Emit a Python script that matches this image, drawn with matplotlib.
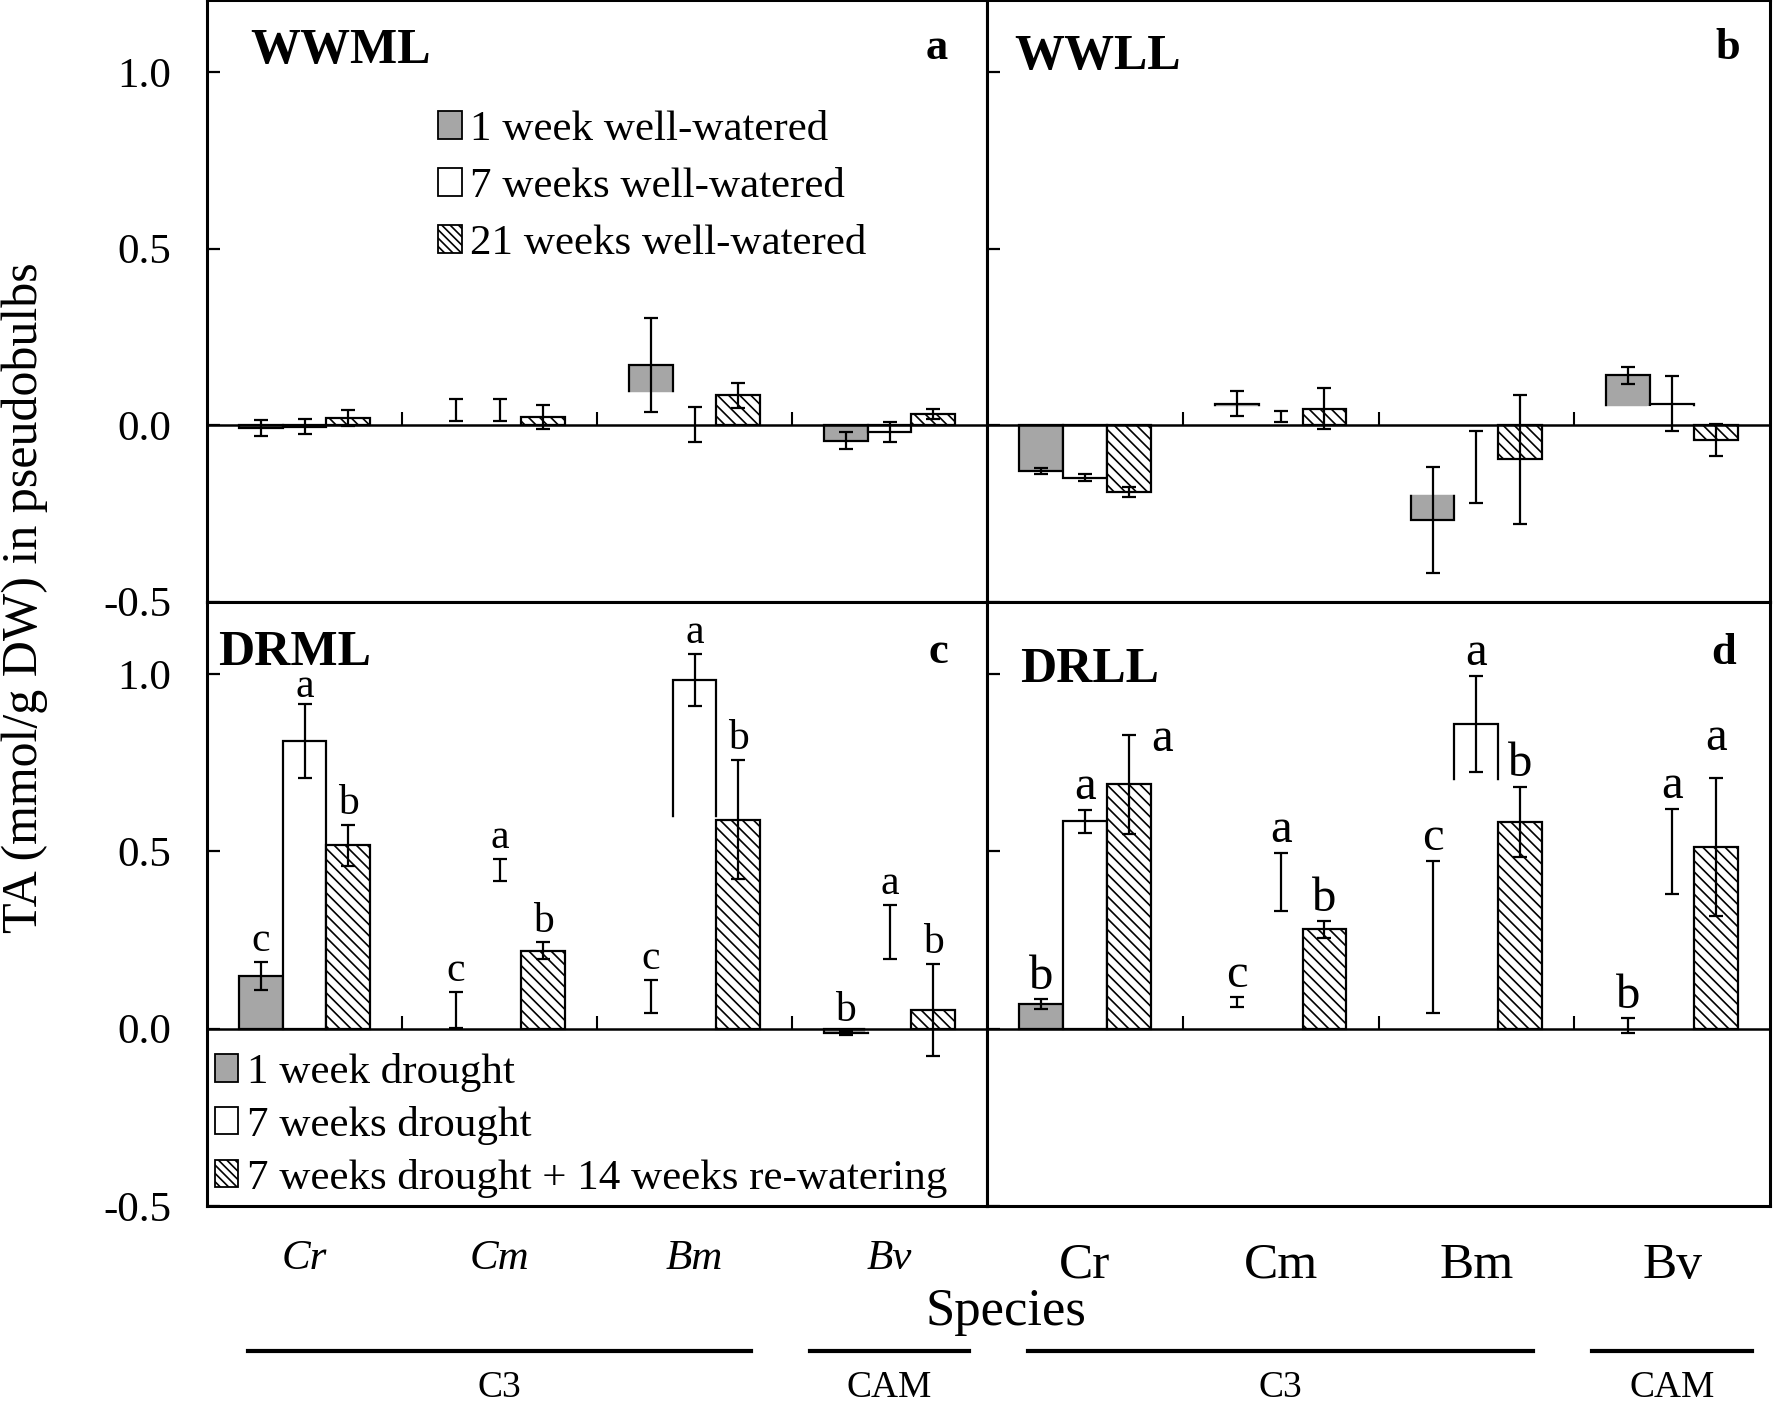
import numpy as np
import matplotlib
matplotlib.use('Agg')
import matplotlib.pyplot as plt
import matplotlib.transforms as mtransforms
from matplotlib.patches import Patch

plt.rcParams['font.family'] = ['Liberation Serif', 'DejaVu Serif']
plt.rcParams['hatch.linewidth'] = 1.2
nan = np.nan

# ---------------- data ----------------
species = ['Cr', 'Cm', 'Bm', 'Bv']
group_names = ['C3', 'CAM']
group_members = [[0, 1, 2], [3]]

ww_labels = ['1 week well-watered', '7 weeks well-watered', '21 weeks well-watered']
dr_labels = ['1 week drought', '7 weeks drought', '7 weeks drought + 14 weeks re-watering']

# panel a: WWML
wwml_1w = [-0.008, 0.043, 0.171, -0.044]
wwml_1w_err = [0.023, 0.032, 0.134, 0.025]
wwml_7w = [-0.005, 0.044, 0.002, -0.019]
wwml_7w_err = [0.021, 0.031, 0.050, 0.029]
wwml_21w = [0.020, 0.023, 0.084, 0.031]
wwml_21w_err = [0.022, 0.034, 0.036, 0.014]
wwml_1w_hidden_to = [nan, 0.043, 0.084, nan]
wwml_7w_hidden_to = [nan, 0.044, 0.002, nan]

# panel b: WWLL
wwll_1w = [-0.130, 0.061, -0.270, 0.141]
wwll_1w_err = [0.008, 0.035, 0.150, 0.025]
wwll_7w = [-0.149, 0.024, -0.119, 0.061]
wwll_7w_err = [0.010, 0.015, 0.103, 0.077]
wwll_21w = [-0.190, 0.046, -0.097, -0.043]
wwll_21w_err = [0.014, 0.058, 0.182, 0.045]
wwll_1w_hidden_to = [nan, 0.047, -0.191, 0.047]
wwll_7w_hidden_to = [nan, 0.024, -0.119, 0.047]

# panel c: DRML
drml_1w = [0.149, 0.053, 0.091, -0.012]
drml_1w_err = [0.039, 0.051, 0.047, 0.005]
drml_7w = [0.812, 0.448, 0.984, 0.274]
drml_7w_err = [0.104, 0.031, 0.074, 0.076]
drml_rw = [0.517, 0.220, 0.590, 0.053]
drml_rw_err = [0.058, 0.024, 0.169, 0.130]
drml_1w_hidden_to = [nan, 0.053, 0.091, nan]
drml_7w_hidden_to = [nan, 0.448, 0.590, 0.274]
drml_1w_letters = ['c', 'c', 'c', 'b']
drml_7w_letters = ['a', 'a', 'a', 'a']
drml_rw_letters = ['b', 'b', 'b', 'b']

# panel d: DRLL
drll_1w = [0.069, 0.075, 0.259, 0.009]
drll_1w_err = [0.014, 0.014, 0.215, 0.020]
drll_7w = [0.585, 0.414, 0.859, 0.501]
drll_7w_err = [0.032, 0.082, 0.136, 0.120]
drll_rw = [0.689, 0.280, 0.584, 0.512]
drll_rw_err = [0.140, 0.023, 0.099, 0.194]
drll_1w_hidden_to = [nan, 0.075, 0.259, 0.009]
drll_7w_hidden_to = [nan, 0.414, 0.693, 0.501]
drll_1w_letters = ['b', 'c', 'c', 'b']
drll_7w_letters = ['a', 'a', 'a', 'a']
drll_rw_letters = ['a', 'b', 'b', 'a']

# ---------------- style ----------------
GRAY = '#a6a6a6'
HATCH = '\\\\\\'
YLIM = (-0.5, 1.205)
BAR_W = 0.224
LW = 1.6

W, H = 1773, 1412
fig = plt.figure(figsize=(W / 100, H / 100), dpi=100)


def px_axes(x0, y0, x1, y1):
    return fig.add_axes([x0 / W, 1 - y1 / H, (x1 - x0) / W, (y1 - y0) / H])


ax_a = px_axes(207, 0, 987, 601.5)
ax_b = px_axes(987, 0, 1770, 601.5)
ax_c = px_axes(207, 601.5, 987, 1206)
ax_d = px_axes(987, 601.5, 1770, 1206)

x = np.arange(len(species))
offsets = [-BAR_W, 0.0, BAR_W]


def draw_panel(ax, series, errs, hidden, letters=None, letter_size=30, shifts=None):
    ax.set_xlim(-0.5, len(species) - 0.5)
    ax.set_ylim(*YLIM)
    styles = [dict(color=GRAY), dict(color='white'), dict(color='white', hatch=HATCH)]
    zs = [2, 2, 3]
    for k in range(3):
        ax.bar(x + offsets[k], series[k], width=BAR_W, edgecolor='black',
               linewidth=LW, zorder=zs[k], **styles[k])
        ax.errorbar(x + offsets[k], series[k], yerr=errs[k], fmt='none', ecolor='black',
                    elinewidth=LW, capsize=5, capthick=LW, zorder=5)
    # portions of the bars that are blank in the original figure
    for k in range(2):
        h = np.asarray(hidden[k], dtype=float)
        ok = ~np.isnan(h)
        if ok.any():
            ax.bar((x + offsets[k])[ok], h[ok], width=BAR_W, color='white',
                   edgecolor='white', linewidth=4.0, zorder=2.5)
    if letters is not None:
        for k in range(3):
            for i in range(len(species)):
                dx, dy = 0.0, 0.0
                if shifts and (k, i) in shifts:
                    dx, dy = shifts[(k, i)]
                ytop = series[k][i] + errs[k][i]
                ax.text(x[i] + offsets[k] + dx, ytop + 0.03 + dy, letters[k][i],
                        ha='center', va='baseline', fontsize=letter_size, zorder=6)
    # zero line with inward category-separator ticks
    frac0 = (0 - YLIM[0]) / (YLIM[1] - YLIM[0])
    sec = ax.secondary_xaxis(frac0)
    sec.set_xticks(x[:-1] + 0.5)
    sec.tick_params(direction='in', length=9.5, width=1.5, labelbottom=False, labeltop=False)
    sec.spines['bottom'].set_linewidth(1.8)
    sec.set_zorder(10)
    # frame / ticks
    for s in ax.spines.values():
        s.set_linewidth(2.2)
    ax.set_yticks([-0.5, 0.0, 0.5, 1.0])
    ax.tick_params(axis='y', direction='in', length=9, width=1.6, labelsize=31, pad=26)
    ax.tick_params(axis='x', length=0)


draw_panel(ax_a, [wwml_1w, wwml_7w, wwml_21w], [wwml_1w_err, wwml_7w_err, wwml_21w_err],
           [wwml_1w_hidden_to, wwml_7w_hidden_to])
draw_panel(ax_b, [wwll_1w, wwll_7w, wwll_21w], [wwll_1w_err, wwll_7w_err, wwll_21w_err],
           [wwll_1w_hidden_to, wwll_7w_hidden_to])
draw_panel(ax_c, [drml_1w, drml_7w, drml_rw], [drml_1w_err, drml_7w_err, drml_rw_err],
           [drml_1w_hidden_to, drml_7w_hidden_to],
           letters=[drml_1w_letters, drml_7w_letters, drml_rw_letters], letter_size=30,
           shifts={(1, 0): (0.0, -0.01)})
draw_panel(ax_d, [drll_1w, drll_7w, drll_rw], [drll_1w_err, drll_7w_err, drll_rw_err],
           [drll_1w_hidden_to, drll_7w_hidden_to],
           letters=[drll_1w_letters, drll_7w_letters, drll_rw_letters], letter_size=35,
           shifts={(2, 0): (0.17, -0.075), (2, 3): (0.0, 0.05)})

tick_text = ['-0.5', '0.0', '0.5', '1.0']
for ax in (ax_a, ax_c):
    ax.set_yticklabels(tick_text)
for ax in (ax_b, ax_d):
    ax.set_yticklabels([])
for ax in (ax_a, ax_b):
    ax.set_xticks([])

ax_c.set_xticks(x)
ax_c.set_xticklabels(species, fontsize=31, style='italic')
ax_c.tick_params(axis='x', pad=24)
ax_d.set_xticks(x)
ax_d.set_xticklabels(species, fontsize=37)
ax_d.tick_params(axis='x', pad=26)

# panel names and tags
ax_a.text(0.056, 0.915, 'WWML', transform=ax_a.transAxes, fontsize=36, fontweight='bold', va='center')
ax_a.text(0.935, 0.921, 'a', transform=ax_a.transAxes, fontsize=32, fontweight='bold', va='center', ha='center')
ax_b.text(0.035, 0.905, 'WWLL', transform=ax_b.transAxes, fontsize=36, fontweight='bold', va='center')
ax_b.text(0.946, 0.921, 'b', transform=ax_b.transAxes, fontsize=32, fontweight='bold', va='center', ha='center')
ax_c.text(0.014, 0.914, 'DRML', transform=ax_c.transAxes, fontsize=36, fontweight='bold', va='center')
ax_c.text(0.938, 0.916, 'c', transform=ax_c.transAxes, fontsize=32, fontweight='bold', va='center', ha='center')
ax_d.text(0.042, 0.886, 'DRLL', transform=ax_d.transAxes, fontsize=36, fontweight='bold', va='center')
ax_d.text(0.941, 0.914, 'd', transform=ax_d.transAxes, fontsize=32, fontweight='bold', va='center', ha='center')

# legends
def handles():
    return [Patch(facecolor=GRAY, edgecolor='black', linewidth=1.3),
            Patch(facecolor='white', edgecolor='black', linewidth=1.3),
            Patch(facecolor='white', edgecolor='black', linewidth=1.3, hatch='\\\\\\\\')]

leg_kw = dict(frameon=False, fontsize=31, handlelength=0.55, handleheight=0.6,
              handletextpad=0.2, borderpad=0, borderaxespad=0, loc='upper left')
ax_a.legend(handles(), ww_labels, bbox_to_anchor=(0.296, 0.816), labelspacing=0.43, **leg_kw)
ax_c.legend(handles(), dr_labels, bbox_to_anchor=(0.010, 0.253), labelspacing=0.32, **leg_kw)

# axis titles
fig.text(1006 / W, 1 - 1312 / H, 'Species', ha='center', va='center', fontsize=38)
fig.text(25 / W, 1 - 598 / H, 'TA (mmol/g DW) in pseudobulbs', ha='center', va='center',
         rotation=90, fontsize=36)

# photosynthetic-type group bars below the species labels
group_pad = [0.29, 0.41]
for ax in (ax_c, ax_d):
    tr = mtransforms.blended_transform_factory(ax.transData, fig.transFigure)
    for name, mem, pad in zip(group_names, group_members, group_pad):
        x0, x1 = min(mem) - pad, max(mem) + pad
        ax.plot([x0, x1], [1 - 1351 / H, 1 - 1351 / H], color='black', lw=3,
                transform=tr, clip_on=False)
        ax.text(np.mean(mem), 1 - 1388 / H, name, transform=tr, ha='center', va='center',
                fontsize=27)

fig.savefig('out.png', dpi=100)
